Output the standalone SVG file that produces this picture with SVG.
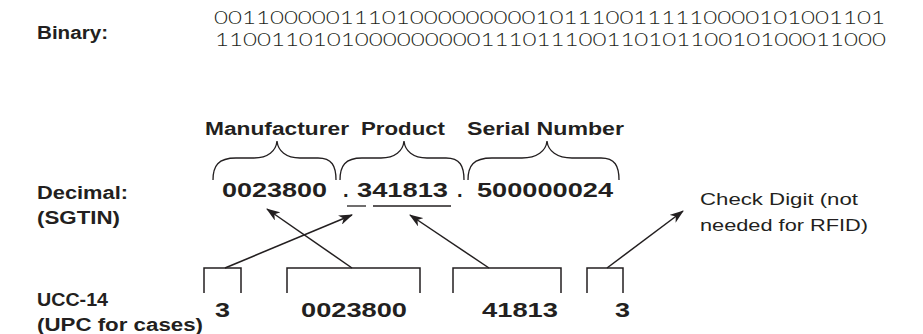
<svg xmlns="http://www.w3.org/2000/svg" width="923" height="334" viewBox="0 0 923 334">
<style>
  .lbl { font-family: "Liberation Sans", Arial, sans-serif; font-weight: bold; fill: #231f20; }
  .num { font-family: "Liberation Sans", Arial, sans-serif; font-weight: bold; fill: #231f20; font-size: 20px; }
  .bin { font-family: Lato, "Liberation Sans", sans-serif; font-weight: 300; fill: #231f20; font-size: 18px; }
  .note { font-family: "Liberation Sans", Arial, sans-serif; fill: #231f20; font-size: 17px; }
  .brace { fill: none; stroke: #231f20; stroke-width: 1.3; }
  .brk { fill: none; stroke: #231f20; stroke-width: 1.5; }
  .arr { fill: none; stroke: #231f20; stroke-width: 1.5; marker-end: url(#ah); }
  .ul { stroke: #231f20; stroke-width: 1.3; }
</style>
<defs>
  <marker id="ah" markerUnits="userSpaceOnUse" markerWidth="14" markerHeight="10" refX="13" refY="5" orient="auto">
    <path d="M0,0 L14,5 L0,10 L4,5 z" fill="#231f20"/>
  </marker>
</defs>
<rect width="923" height="334" fill="#ffffff"/>

<g id="binary">
  <text class="lbl" x="37" y="39" font-size="18" textLength="71" lengthAdjust="spacingAndGlyphs">Binary:</text>
  <text class="bin" x="214" y="24" textLength="671" lengthAdjust="spacingAndGlyphs">001100000111010000000001011100111110000101001101</text>
  <text class="bin" x="215" y="46" textLength="671" lengthAdjust="spacingAndGlyphs">110011010100000000011101110011010110010100011000</text>
</g>

<g id="field-labels">
  <text class="lbl" x="205" y="135" font-size="18" textLength="144" lengthAdjust="spacingAndGlyphs">Manufacturer</text>
  <text class="lbl" x="361" y="135" font-size="18" textLength="84" lengthAdjust="spacingAndGlyphs">Product</text>
  <text class="lbl" x="467" y="135" font-size="18" textLength="157" lengthAdjust="spacingAndGlyphs">Serial Number</text>
</g>

<g id="braces">
  <path class="brace" d="M213,180 C213,166 218,158 236,158 L254,158 C268,158 276,151 277,141 C278,151 286,158 300,158 L318,158 C332,158 336,166 336,180"/>
  <path class="brace" d="M340,180 C340,166 345,158 362,158 L381,158 C395,158 403,151 404,141 C405,151 413,158 427,158 L446,158 C460,158 464,166 464,180"/>
  <path class="brace" d="M468,180 C468,166 473,158 492,158 L522,158 C537,158 546,151 547,141 C548,151 557,158 572,158 L601,158 C615,158 619,166 619,180"/>
</g>

<g id="decimal">
  <text class="lbl" x="37" y="199" font-size="18" textLength="91" lengthAdjust="spacingAndGlyphs">Decimal:</text>
  <text class="lbl" x="37" y="224" font-size="18" textLength="83" lengthAdjust="spacingAndGlyphs">(SGTIN)</text>
  <text class="num" x="222" y="197" textLength="105" lengthAdjust="spacingAndGlyphs">0023800</text>
  <text class="num" x="343" y="197">.</text>
  <text class="num" x="357" y="197" textLength="91" lengthAdjust="spacingAndGlyphs">341813</text>
  <text class="num" x="457" y="197">.</text>
  <text class="num" x="477" y="197" textLength="136" lengthAdjust="spacingAndGlyphs">500000024</text>
  <line class="ul" x1="347" y1="206" x2="366" y2="206"/>
  <line class="ul" x1="373" y1="206" x2="451" y2="206"/>
</g>

<g id="check-digit-note">
  <text class="note" x="700" y="205" textLength="158" lengthAdjust="spacingAndGlyphs">Check Digit (not</text>
  <text class="note" x="700" y="231" textLength="168" lengthAdjust="spacingAndGlyphs">needed for RFID)</text>
</g>

<g id="ucc14">
  <text class="lbl" x="37" y="306" font-size="18" textLength="71" lengthAdjust="spacingAndGlyphs">UCC-14</text>
  <text class="lbl" x="37" y="331" font-size="18" textLength="166" lengthAdjust="spacingAndGlyphs">(UPC for cases)</text>
  <path class="brk" d="M204,293 V268 H241 V293"/>
  <path class="brk" d="M287,293 V268 H420 V293"/>
  <path class="brk" d="M453,293 V268 H561 V293"/>
  <path class="brk" d="M587,293 V268 H623 V293"/>
  <text class="num" x="215" y="317" textLength="15" lengthAdjust="spacingAndGlyphs">3</text>
  <text class="num" x="301" y="317" textLength="106" lengthAdjust="spacingAndGlyphs">0023800</text>
  <text class="num" x="482" y="317" textLength="76" lengthAdjust="spacingAndGlyphs">41813</text>
  <text class="num" x="615" y="317" textLength="15" lengthAdjust="spacingAndGlyphs">3</text>
</g>

<g id="connectors">
  <line class="arr" x1="352" y1="268" x2="267" y2="209"/>
  <line class="arr" x1="225" y1="268" x2="352" y2="215"/>
  <line class="arr" x1="489" y1="268" x2="410" y2="215"/>
  <line class="arr" x1="607" y1="268" x2="683" y2="211"/>
</g>
</svg>
